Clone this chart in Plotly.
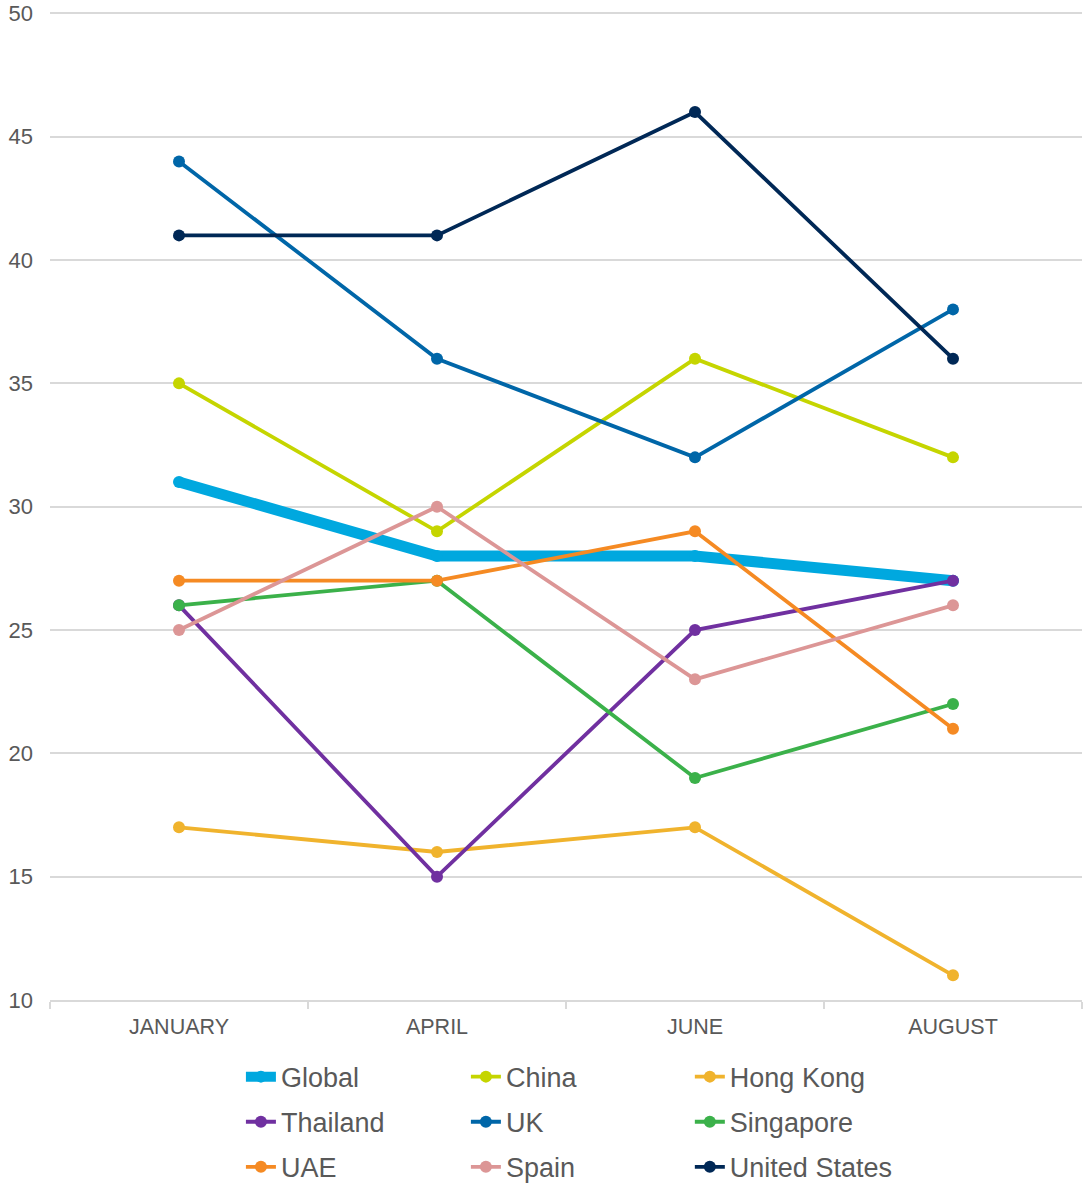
import plotly.graph_objects as go

months = ["JANUARY", "APRIL", "JUNE", "AUGUST"]
global_vals = [31, 28, 28, 27]
china = [35, 29, 36, 32]
hong_kong = [17, 16, 17, 11]
thailand = [26, 15, 25, 27]
uk = [44, 36, 32, 38]
singapore = [26, 27, 19, 22]
uae = [27, 27, 29, 21]
spain = [25, 30, 23, 26]
united_states = [41, 41, 46, 36]

series = [
    ("Global", global_vals, "#00A8DF", 11, "legend"),
    ("China", china, "#C5D500", 3.8, "legend2"),
    ("Hong Kong", hong_kong, "#F0B32D", 3.8, "legend3"),
    ("Thailand", thailand, "#7030A0", 3.8, "legend"),
    ("UK", uk, "#0066A8", 3.8, "legend2"),
    ("Singapore", singapore, "#3BB14A", 3.8, "legend3"),
    ("UAE", uae, "#F58A23", 3.8, "legend"),
    ("Spain", spain, "#DC9696", 3.8, "legend2"),
    ("United States", united_states, "#002856", 3.8, "legend3"),
]

fig = go.Figure()
for name, vals, color, width, leg in series:
    fig.add_trace(go.Scatter(
        x=months, y=vals, name=name, mode="lines+markers",
        line=dict(color=color, width=width),
        marker=dict(color=color, size=12),
        legend=leg, legendgroup=name,
    ))

font_family = "Liberation Sans, Arial, sans-serif"
text_color = "#595959"
grid_color = "#D9D9D9"

# legend placement relative to the plot area (plot area height changes with range pad)
plot_h = 1183 - 5.6 - 183
leg_y = -52.6 / plot_h

leg_common = dict(
    orientation="v", yanchor="top", xanchor="left",
    font=dict(family=font_family, size=27, color=text_color),
    bgcolor="rgba(0,0,0,0)", tracegroupgap=7, traceorder="grouped",
)
fig.update_layout(
    width=1084, height=1183,
    margin=dict(l=50, r=2, t=5.6, b=183, autoexpand=False),
    plot_bgcolor="white", paper_bgcolor="white",
    font=dict(family=font_family, color=text_color),
    showlegend=True,
    legend=dict(x=0.185, y=leg_y, **leg_common),
    legend2=dict(x=0.403, y=leg_y, **leg_common),
    legend3=dict(x=0.620, y=leg_y, **leg_common),
    xaxis=dict(
        type="category", range=[-0.5, 3.5], automargin=False,
        showgrid=False, showline=True, linecolor=grid_color, linewidth=2,
        ticks="outside", tickson="boundaries", ticklen=7, tickcolor=grid_color, tickwidth=2,
        ticklabelstandoff=6,
        tickfont=dict(family=font_family, size=21.5, color=text_color),
    ),
    yaxis=dict(
        range=[10, 50.3], tickvals=[10, 15, 20, 25, 30, 35, 40, 45, 50], automargin=False,
        showgrid=True, gridcolor=grid_color, gridwidth=2,
        zeroline=False, showline=False,
        ticks="", ticklabelstandoff=16,
        tickfont=dict(family=font_family, size=22, color=text_color),
    ),
)

fig.write_html(
    "out.html",
    config={"displayModeBar": False},
    post_script="document.body.style.margin='0';document.body.style.overflow='hidden';",
)
